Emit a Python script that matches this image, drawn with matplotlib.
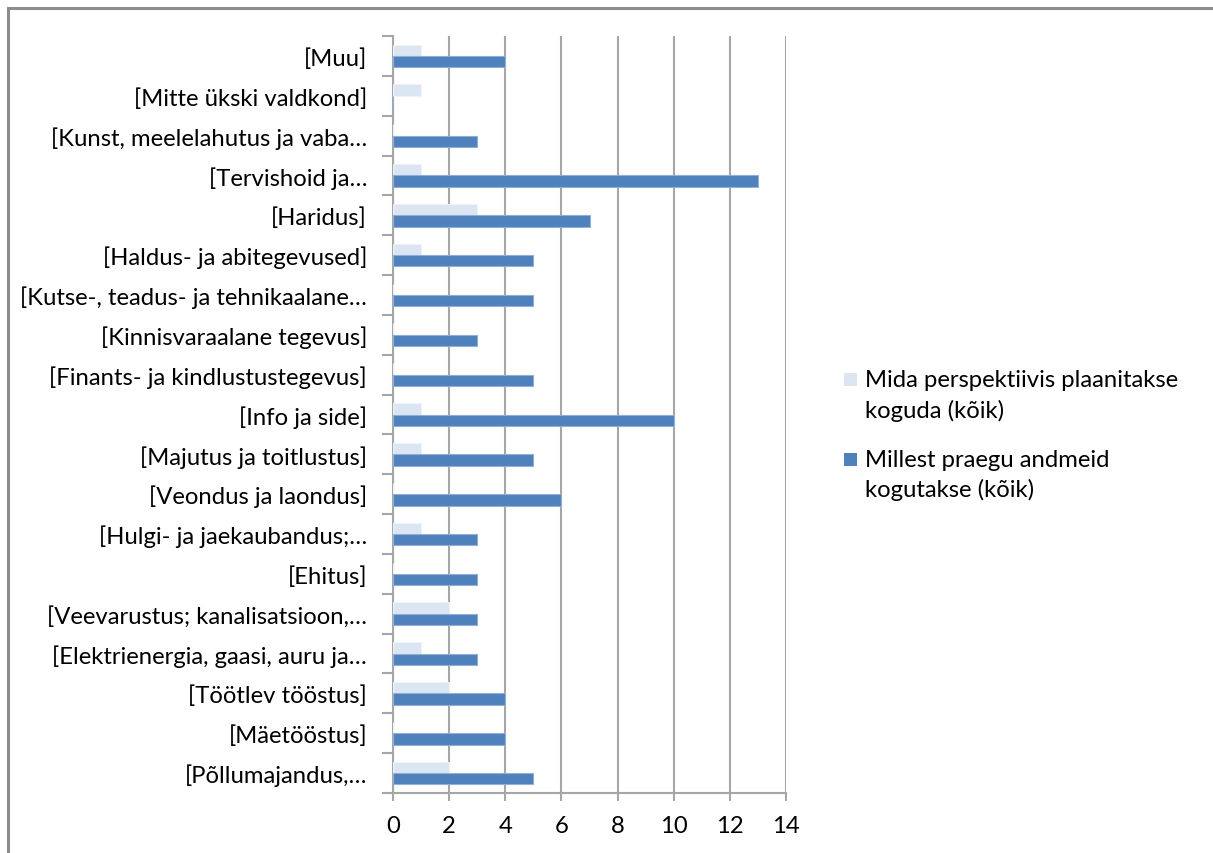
import matplotlib
matplotlib.use("Agg")
import matplotlib.pyplot as plt
from matplotlib.patches import Rectangle
import numpy as np

plt.rcParams['font.family'] = ['Lato', 'DejaVu Sans']

categories = [
    "[Muu]",
    "[Mitte ükski valdkond]",
    "[Kunst, meelelahutus ja vaba…",
    "[Tervishoid ja…",
    "[Haridus]",
    "[Haldus- ja abitegevused]",
    "[Kutse-, teadus- ja tehnikaalane…",
    "[Kinnisvaraalane tegevus]",
    "[Finants- ja kindlustustegevus]",
    "[Info ja side]",
    "[Majutus ja toitlustus]",
    "[Veondus ja laondus]",
    "[Hulgi- ja jaekaubandus;…",
    "[Ehitus]",
    "[Veevarustus; kanalisatsioon,…",
    "[Elektrienergia, gaasi, auru ja…",
    "[Töötlev tööstus]",
    "[Mäetööstus]",
    "[Põllumajandus,…",
]
planned = [1, 1, 0, 1, 3, 1, 0, 0, 0, 1, 1, 0, 1, 0, 2, 1, 2, 0, 2]
current = [4, 0, 3, 13, 7, 5, 5, 3, 5, 10, 5, 6, 3, 3, 3, 3, 4, 4, 5]
series_names = [["Mida perspektiivis plaanitakse", "koguda (kõik)"],
                ["Millest praegu andmeid", "kogutakse (kõik)"]]
xticks = [0, 2, 4, 6, 8, 10, 12, 14]

LIGHT = "#dce6f2"
DARK = "#4f81bd"
GRID = "#a6a6a6"
FS = 17.2

W, H = 1213, 854
fig = plt.figure(figsize=(W / 100, H / 100), dpi=100)
ax = fig.add_axes([393 / W, 1 - 794 / H, (786 - 393) / W, (794 - 37) / H])

y = np.arange(len(categories))
bh = 0.285
ax.barh(y - bh / 2, planned, height=bh, color=LIGHT, edgecolor="#eef3f9",
        linewidth=0.8, zorder=3)
ax.barh(y + bh / 2, current, height=bh, color=DARK, edgecolor="#8fb0d8",
        linewidth=0.8, zorder=3)

ax.set_ylim(len(categories) - 0.5, -0.5)
ax.set_xlim(0, 14)

ax.set_yticks(y)
ax.set_yticklabels(categories, fontsize=FS)
ax.set_yticks(np.arange(len(categories) + 1) - 0.5, minor=True)
ax.tick_params(axis="y", which="major", length=0, pad=18.7)
ax.tick_params(axis="y", which="minor", length=8, width=1.5, color=GRID)

ax.set_xticks(xticks)
ax.set_xticklabels([str(v) for v in xticks], fontsize=FS)
ax.tick_params(axis="x", length=6, width=1.5, color=GRID, pad=10)

ax.grid(axis="x", color=GRID, linewidth=1.5, zorder=0)
ax.set_axisbelow(True)
for s in ["top", "right"]:
    ax.spines[s].set_visible(False)
for s in ["left", "bottom"]:
    ax.spines[s].set_color(GRID)
    ax.spines[s].set_linewidth(1.5)

# legend: square key aligned with the first line of each two-line entry
legend_colors = [LIGHT, DARK]
first_baselines = [387, 467]
line_step = 30.5
for color, lines, base in zip(legend_colors, series_names, first_baselines):
    fig.patches.append(Rectangle((844 / W, 1 - base / H), 13 / W, 13 / H,
                                 transform=fig.transFigure, facecolor=color,
                                 edgecolor="none"))
    for k, line in enumerate(lines):
        fig.text(865 / W, 1 - (base + k * line_step) / H, line, fontsize=FS,
                 ha="left", va="baseline")

# chart frame
fig.patches.append(Rectangle((8 / W, -0.1), 1.2, 1 - 9 / H + 0.1, transform=fig.transFigure,
                             fill=False, edgecolor="#8c8c8c", linewidth=2.2))

fig.savefig("out.png", dpi=100, facecolor="white")
